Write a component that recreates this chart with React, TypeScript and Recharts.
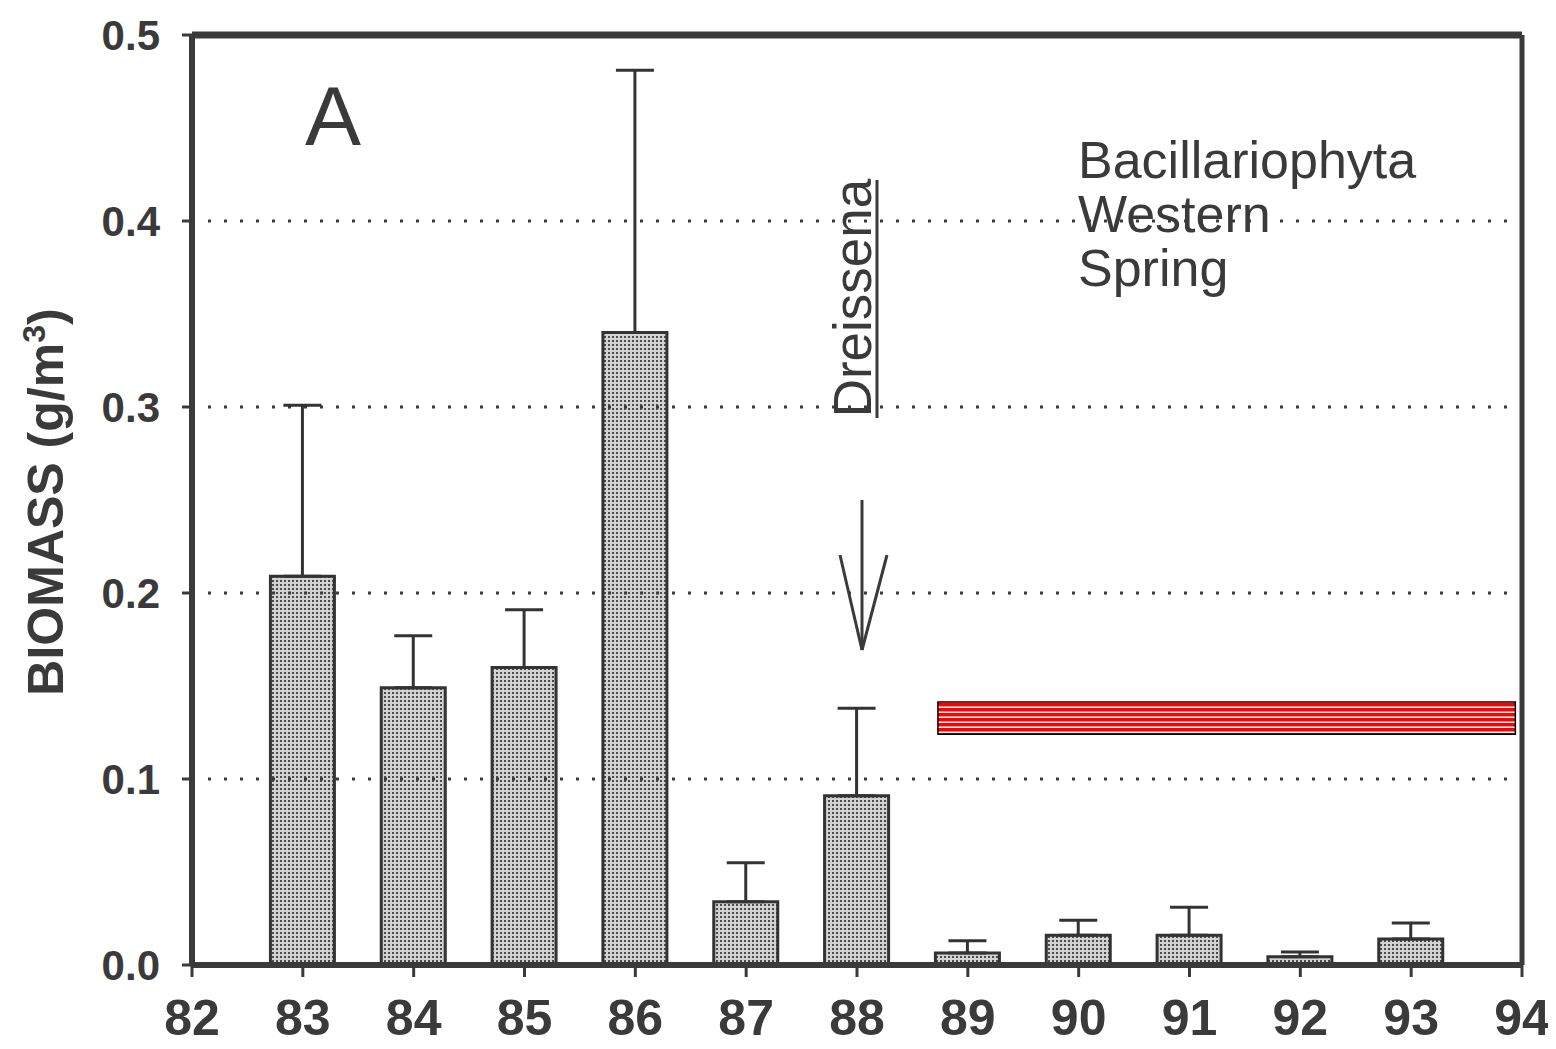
import { ComposedChart, Bar, ErrorBar, XAxis, YAxis, ReferenceLine, ReferenceArea } from "recharts";

const years = [83, 84, 85, 86, 87, 88, 89, 90, 91, 92, 93];
const biomass = [0.209, 0.149, 0.16, 0.34, 0.034, 0.091, 0.0065, 0.016, 0.016, 0.0045, 0.014];
const errUp = [0.092, 0.028, 0.031, 0.141, 0.021, 0.047, 0.0065, 0.008, 0.015, 0.0025, 0.0086];
const xTicks = [82, 83, 84, 85, 86, 87, 88, 89, 90, 91, 92, 93, 94];
const yTicks = [0, 0.1, 0.2, 0.3, 0.4, 0.5];
const gridLines = [0.1, 0.2, 0.3, 0.4];
const titleLines = ["Bacillariophyta", "Western", "Spring"];

const data = years.map((y, i) => ({ year: y, biomass: biomass[i], err: [0, errUp[i]] }));

const ink = "#3a3a3a";
const font = "'Liberation Sans', Arial, sans-serif";

export default function App() {
  return (
    <ComposedChart
      width={1540}
      height={1041}
      data={data}
      margin={{ top: 27, right: 26, bottom: 0, left: 0 }}
    >
      <defs>
        <pattern id="stipple" width="4" height="4" patternUnits="userSpaceOnUse">
          <rect width="4" height="4" fill="#d2d2d2" />
          <rect width="2" height="2" fill="#4a4a4a" />
        </pattern>
        <pattern id="redStripes" width="10" height="5" patternUnits="userSpaceOnUse">
          <rect width="10" height="5" fill="#ff0000" />
          <rect y="3.5" width="10" height="1.5" fill="#ffffff" />
        </pattern>
      </defs>
      <XAxis
        dataKey="year"
        type="number"
        domain={[82, 94]}
        ticks={xTicks}
        interval={0}
        height={84}
        tickSize={12}
        tickMargin={22}
        axisLine={{ stroke: ink, strokeWidth: 6 }}
        tickLine={{ stroke: ink, strokeWidth: 3 }}
        tick={{ fill: ink, fontSize: 50, fontWeight: "bold", fontFamily: font }}
      />
      <YAxis
        type="number"
        domain={[0, 0.5]}
        ticks={yTicks}
        width={184}
        tickSize={10}
        tickMargin={22}
        tickFormatter={(v: number) => v.toFixed(1)}
        axisLine={{ stroke: ink, strokeWidth: 6 }}
        tickLine={{ stroke: ink, strokeWidth: 3 }}
        tick={{ fill: ink, fontSize: 42, fontWeight: "bold", fontFamily: font }}
      />
      {gridLines.map((g) => (
        <ReferenceLine key={g} y={g} stroke={ink} strokeWidth={3} strokeDasharray="3 13" />
      ))}
      <ReferenceLine y={0.5} stroke={ink} strokeWidth={7} />
      <ReferenceLine x={94} stroke={ink} strokeWidth={5} />
      <Bar
        dataKey="biomass"
        barSize={64}
        fill="url(#stipple)"
        stroke="#333"
        strokeWidth={3}
        isAnimationActive={false}
      >
        <ErrorBar dataKey="err" direction="y" width={19} stroke="#333" strokeWidth={3} />
      </Bar>
      <ReferenceArea
        x1={88.73}
        x2={93.94}
        y1={0.124}
        y2={0.1414}
        fill="url(#redStripes)"
        fillOpacity={1}
        stroke="#000"
        strokeWidth={1.5}
        ifOverflow="visible"
      />
      <text x={325} y={137} fontSize={84} fontFamily={font} fill={ink} textAnchor="middle">
        A
      </text>
      {titleLines.map((t, i) => (
        <text key={t} x={1070} y={170 + i * 54} fontSize={52} fontFamily={font} fill={ink}>
          {t}
        </text>
      ))}
      <text
        x={863}
        y={290}
        fontSize={53}
        fontFamily={font}
        fill={ink}
        textAnchor="middle"
        transform="rotate(-90 863 290)"
      >
        Dreissena
      </text>
      <line x1={869} y1={172} x2={869} y2={410} stroke={ink} strokeWidth={3} />
      <line x1={854} y1={492} x2={854} y2={642} stroke={ink} strokeWidth={3} />
      <line x1={832} y1={547} x2={854} y2={642} stroke={ink} strokeWidth={3} />
      <line x1={879} y1={547} x2={854} y2={642} stroke={ink} strokeWidth={3} />
      <text
        x={55}
        y={494}
        fontSize={50}
        fontWeight="bold"
        fontFamily={font}
        fill={ink}
        textAnchor="middle"
        transform="rotate(-90 55 494)"
      >
        BIOMASS (g/m<tspan dy={-18} fontSize={32}>3</tspan>
        <tspan dy={18}>)</tspan>
      </text>
    </ComposedChart>
  );
}
